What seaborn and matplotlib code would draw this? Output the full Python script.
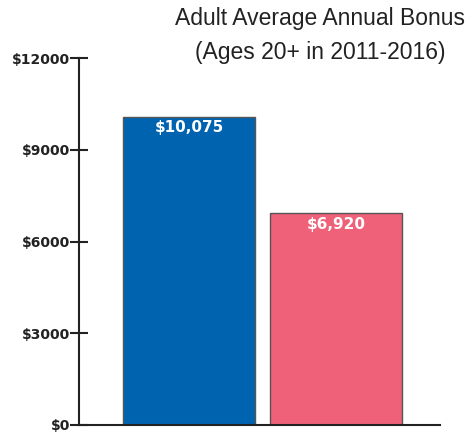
import matplotlib
matplotlib.use("Agg")
import matplotlib.pyplot as plt
import seaborn as sns
import pandas as pd

categories = ["Group A", "Group B"]
values = [10075, 6920]
labels = ["$10,075", "$6,920"]
yticks = [0, 3000, 6000, 9000, 12000]
ytick_labels = ["$0", "$3000", "$6000", "$9000", "$12000"]
colors = ["#0063B0", "#EF6179"]
title_lines = ["Adult Average Annual Bonus", "(Ages 20+ in 2011-2016)"]

sns.set_style("white")
plt.rcParams["font.family"] = ["Liberation Sans", "DejaVu Sans"]

df = pd.DataFrame({"cat": categories, "val": values})

fig = plt.figure(figsize=(4.69, 4.33), dpi=100)
ax = fig.add_axes([79/469, 8/433, (440-79)/469, (425-58)/433])
sns.barplot(data=df, x="cat", y="val", hue="cat", palette=colors, width=0.898,
            saturation=1, edgecolor="#555555", linewidth=1.0, legend=False, ax=ax)

ax.set_xlim(-0.748, 1.707)
ax.set_ylim(0, 12000)
ax.set_yticks(yticks)
ax.set_yticklabels(ytick_labels, fontsize=10, fontweight="bold", color="#222222",
                   family=["DejaVu Sans"])
ax.set_xticks([])
ax.set_xlabel("")
ax.set_ylabel("")
ax.tick_params(axis="y", direction="inout", length=13, width=1.5, color="#222222", pad=0, left=True)
for s in ["top", "right"]:
    ax.spines[s].set_visible(False)
ax.spines["left"].set_color("#222222")
ax.spines["left"].set_linewidth(1.5)
ax.spines["bottom"].set_color("#222222")
ax.spines["bottom"].set_linewidth(1.5)

for i, (v, lab) in enumerate(zip(values, labels)):
    ax.text(i, v - 360, lab, ha="center", va="center", color="white",
            fontsize=11, fontweight="bold", family=["DejaVu Sans"])

fig.text(320/469, 1 - 19/433, title_lines[0], ha="center", va="center",
         fontsize=16.5, color="#222222")
fig.text(320/469, 1 - 52/433, title_lines[1], ha="center", va="center",
         fontsize=16.5, color="#222222")

fig.savefig("out.png", dpi=100)
